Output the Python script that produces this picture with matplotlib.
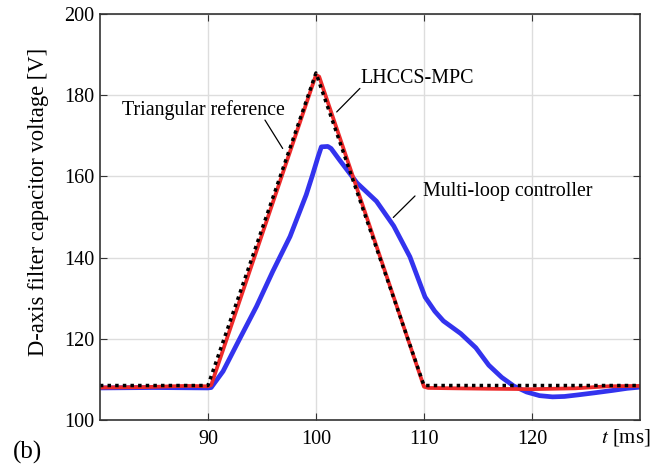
import numpy as np
import matplotlib
matplotlib.use("Agg")
from matplotlib import pyplot as plt

plt.rcParams["font.family"] = ["Liberation Serif", "DejaVu Serif"]
plt.rcParams["mathtext.fontset"] = "stix"

# triangular reference (black dotted)
ref_t = [80, 90, 100, 110, 130]
ref_v = [108.5, 108.5, 185.5, 108.5, 108.5]

# LHCCS-MPC (red)
mpc_t = [80, 84, 88, 90, 90.3, 100, 100.3, 110, 110.4, 113, 116, 120, 124, 127, 130]
mpc_v = [108.0, 108.1, 108.4, 108.3, 108.6, 185.0, 184.6, 108.2, 107.9, 107.8, 107.7, 107.6, 107.8, 108.3, 108.4]

# multi-loop controller (blue)
ml_t = [80, 85, 90, 90.3, 91.4, 92.9, 94.5, 96.0, 97.6, 99.1, 99.7, 100.2, 100.5, 101.1, 101.4,
        102.2, 103.8, 105.6, 107.2, 108.7, 110.1, 111.0, 111.8, 113.4, 114.8, 116.0, 117.2,
        118.3, 119.5, 120.7, 121.9, 123.0, 124.3, 125.8, 127.5, 128.8, 130]
ml_v = [107.9, 108.0, 107.9, 108.0, 112.0, 119.8, 128.0, 136.6, 145.2, 155.5, 160.5, 164.9, 167.3, 167.4, 166.9,
        164.0, 158.4, 153.9, 147.8, 140.2, 130.3, 126.8, 124.4, 121.3, 117.8, 113.5, 110.5,
        108.4, 106.9, 106.0, 105.7, 105.8, 106.2, 106.7, 107.3, 107.8, 108.1]

fig = plt.figure(figsize=(6.66, 4.66), dpi=100)
ax = fig.add_axes([0.150, 0.0987, 0.811, 0.871])

ax.plot(ml_t, ml_v, color="#3333ee", lw=3.4, solid_capstyle="round", solid_joinstyle="round")
ax.plot(mpc_t, mpc_v, color="#ee2a2a", lw=2.7)
ax.plot(ref_t, ref_v, color="black", lw=2.5, linestyle=(0, (1, 1.2)))

ax.set_xlim(80, 130)
ax.set_ylim(100, 200)
ax.set_xticks([90, 100, 110, 120])
ax.set_yticks([100, 120, 140, 160, 180, 200])
ax.grid(True, color="#dddddd", lw=1)
ax.set_axisbelow(True)
ax.tick_params(direction="in", top=True, right=True, length=5, labelsize=14.5, color="#333333")
ax.tick_params(axis="x", pad=7)
ax.tick_params(axis="y", pad=4)
for s in ax.spines.values():
    s.set_color("#333333")
    s.set_linewidth(1.2)

ax.set_ylabel("D-axis filter capacitor voltage [V]", fontsize=16.3)
ax.yaxis.set_label_coords(-0.094, 0.537)

ax.text(128.7, 98.2, "$t$ [ms]", fontsize=15, ha="center", va="top")
fig.text(0.042, 0.030, "(b)", fontsize=18, ha="center", va="center")

# annotation texts
ax.text(82.0, 176.4, "Triangular reference", fontsize=14.4, ha="left", va="center")
ax.text(104.14, 184.2, "LHCCS-MPC", fontsize=14.4, ha="left", va="center")
ax.text(109.9, 156.3, "Multi-loop controller", fontsize=14.4, ha="left", va="center")

# leader lines
line_kw = dict(arrowstyle="-", color="black", lw=0.9, shrinkA=0, shrinkB=0)
ax.annotate("", xy=(96.92, 166.9), xytext=(95.28, 173.9), arrowprops=line_kw)
ax.annotate("", xy=(101.92, 175.9), xytext=(104.07, 181.7), arrowprops=line_kw)
ax.annotate("", xy=(107.16, 149.9), xytext=(109.17, 155.2), arrowprops=line_kw)

fig.savefig("out.png", dpi=100)
